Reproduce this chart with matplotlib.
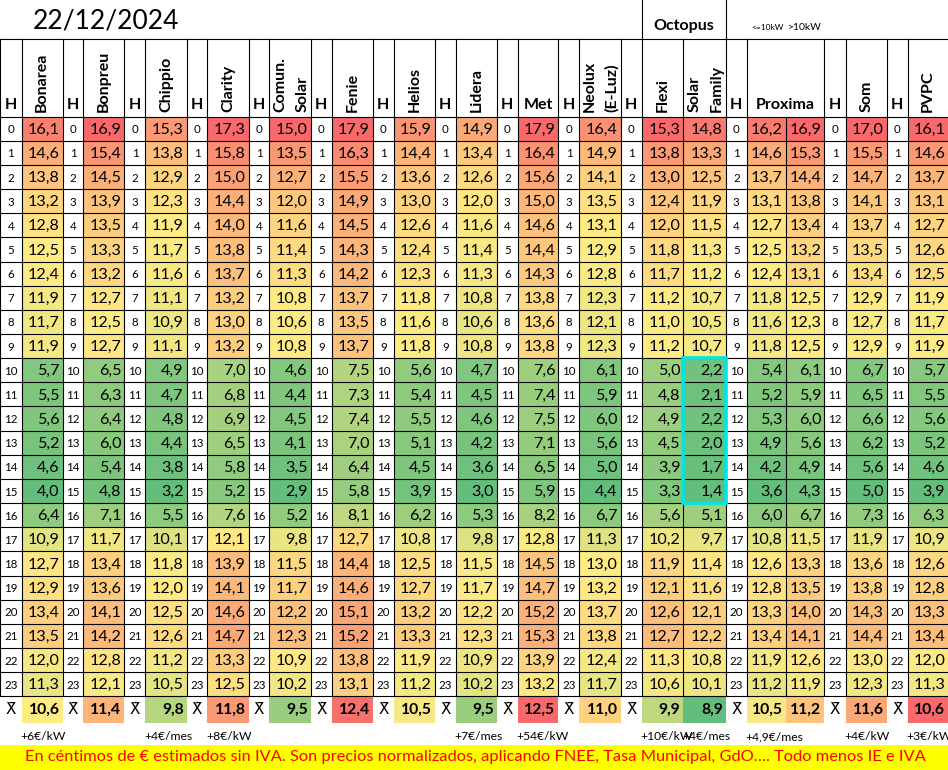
import numpy as np
import matplotlib
matplotlib.use("Agg")
import matplotlib.pyplot as plt
from matplotlib.patches import Rectangle

# ---- data (cents of euro per kWh, by hour) ----
title = "22/12/2024"
hours = list(range(24))

bonarea = [16.1, 14.6, 13.8, 13.2, 12.8, 12.5, 12.4, 11.9, 11.7, 11.9, 5.7, 5.5, 5.6, 5.2, 4.6, 4.0, 6.4, 10.9, 12.7, 12.9, 13.4, 13.5, 12.0, 11.3]
bonpreu = [16.9, 15.4, 14.5, 13.9, 13.5, 13.3, 13.2, 12.7, 12.5, 12.7, 6.5, 6.3, 6.4, 6.0, 5.4, 4.8, 7.1, 11.7, 13.4, 13.6, 14.1, 14.2, 12.8, 12.1]
chippio = [15.3, 13.8, 12.9, 12.3, 11.9, 11.7, 11.6, 11.1, 10.9, 11.1, 4.9, 4.7, 4.8, 4.4, 3.8, 3.2, 5.5, 10.1, 11.8, 12.0, 12.5, 12.6, 11.2, 10.5]
clarity = [17.3, 15.8, 15.0, 14.4, 14.0, 13.8, 13.7, 13.2, 13.0, 13.2, 7.0, 6.8, 6.9, 6.5, 5.8, 5.2, 7.6, 12.1, 13.9, 14.1, 14.6, 14.7, 13.3, 12.5]
comun_solar = [15.0, 13.5, 12.7, 12.0, 11.6, 11.4, 11.3, 10.8, 10.6, 10.8, 4.6, 4.4, 4.5, 4.1, 3.5, 2.9, 5.2, 9.8, 11.5, 11.7, 12.2, 12.3, 10.9, 10.2]
fenie = [17.9, 16.3, 15.5, 14.9, 14.5, 14.3, 14.2, 13.7, 13.5, 13.7, 7.5, 7.3, 7.4, 7.0, 6.4, 5.8, 8.1, 12.7, 14.4, 14.6, 15.1, 15.2, 13.8, 13.1]
helios = [15.9, 14.4, 13.6, 13.0, 12.6, 12.4, 12.3, 11.8, 11.6, 11.8, 5.6, 5.4, 5.5, 5.1, 4.5, 3.9, 6.2, 10.8, 12.5, 12.7, 13.2, 13.3, 11.9, 11.2]
lidera = [14.9, 13.4, 12.6, 12.0, 11.6, 11.4, 11.3, 10.8, 10.6, 10.8, 4.7, 4.5, 4.6, 4.2, 3.6, 3.0, 5.3, 9.8, 11.5, 11.7, 12.2, 12.3, 10.9, 10.2]
met = [17.9, 16.4, 15.6, 15.0, 14.6, 14.4, 14.3, 13.8, 13.6, 13.8, 7.6, 7.4, 7.5, 7.1, 6.5, 5.9, 8.2, 12.8, 14.5, 14.7, 15.2, 15.3, 13.9, 13.2]
neolux = [16.4, 14.9, 14.1, 13.5, 13.1, 12.9, 12.8, 12.3, 12.1, 12.3, 6.1, 5.9, 6.0, 5.6, 5.0, 4.4, 6.7, 11.3, 13.0, 13.2, 13.7, 13.8, 12.4, 11.7]
flexi = [15.3, 13.8, 13.0, 12.4, 12.0, 11.8, 11.7, 11.2, 11.0, 11.2, 5.0, 4.8, 4.9, 4.5, 3.9, 3.3, 5.6, 10.2, 11.9, 12.1, 12.6, 12.7, 11.3, 10.6]
solar_family = [14.8, 13.3, 12.5, 11.9, 11.5, 11.3, 11.2, 10.7, 10.5, 10.7, 2.2, 2.1, 2.2, 2.0, 1.7, 1.4, 5.1, 9.7, 11.4, 11.6, 12.1, 12.2, 10.8, 10.1]
proxima_low = [16.2, 14.6, 13.7, 13.1, 12.7, 12.5, 12.4, 11.8, 11.6, 11.8, 5.4, 5.2, 5.3, 4.9, 4.2, 3.6, 6.0, 10.8, 12.6, 12.8, 13.3, 13.4, 11.9, 11.2]
proxima_high = [16.9, 15.3, 14.4, 13.8, 13.4, 13.2, 13.1, 12.5, 12.3, 12.5, 6.1, 5.9, 6.0, 5.6, 4.9, 4.3, 6.7, 11.5, 13.3, 13.5, 14.0, 14.1, 12.6, 11.9]
som = [17.0, 15.5, 14.7, 14.1, 13.7, 13.5, 13.4, 12.9, 12.7, 12.9, 6.7, 6.5, 6.6, 6.2, 5.6, 5.0, 7.3, 11.9, 13.6, 13.8, 14.3, 14.4, 13.0, 12.3]
pvpc = [16.1, 14.6, 13.7, 13.1, 12.7, 12.6, 12.5, 11.9, 11.7, 11.9, 5.7, 5.5, 5.6, 5.2, 4.6, 3.9, 6.3, 10.9, 12.6, 12.8, 13.3, 13.4, 12.0, 11.3]

averages = [10.6, 11.4, 9.8, 11.8, 9.5, 12.4, 10.5, 9.5, 12.5, 11.0, 9.9, 8.9, 10.5, 11.2, 11.6, 10.6]
extras = ["+6€/kW", "", "+4€/mes", "+8€/kW", "", "", "", "+7€/mes", "+54€/kW", "",
          "+10€/kW", "+4€/mes", "+4,9€/mes", "", "+4€/kW", "+3€/kW"]
footnote = ("En céntimos de € estimados sin IVA. Son precios normalizados, aplicando FNEE, "
            "Tasa Municipal, GdO…. Todo menos IE e IVA")

series = [bonarea, bonpreu, chippio, clarity, comun_solar, fenie, helios, lidera,
          met, neolux, flexi, solar_family, proxima_low, proxima_high, som, pvpc]

# columns: (kind, header) ; kind 'h' = hour column, 'v' = value column
layout = [("h", "H"), ("v", "Bonarea"), ("h", "H"), ("v", "Bonpreu"), ("h", "H"), ("v", "Chippio"),
          ("h", "H"), ("v", "Clarity"), ("h", "H"), ("v", "Comun.\nSolar"), ("h", "H"), ("v", "Fenie"),
          ("h", "H"), ("v", "Helios"), ("h", "H"), ("v", "Lidera"), ("h", "H"), ("v", "Met"),
          ("h", "H"), ("v", "Neolux\n(E-Luz)"), ("h", "H"), ("v", "Flexi"), ("v", "Solar\nFamily"),
          ("h", "H"), ("v", "Proxima"), ("v", ""), ("h", "H"), ("v", "Som"), ("h", "H"), ("v", "PVPC")]
widths = [21.7, 41, 20.6, 41.1, 21, 41.4, 20.6, 41.4, 20.6, 41.4, 21, 41, 21, 41, 21, 41,
          21, 40.6, 21, 41.4, 21, 41.6, 42.4, 21, 38.8, 38.8, 21.4, 41, 21, 40.3]
color_group = [0, 0, 1, 1, 2, 3, 3, 3, 4, 4, 5, 5, 6, 6, 7, 8]

GREEN = np.array([0x63, 0xBE, 0x7B]) / 255
YELLOW = np.array([0xFF, 0xEB, 0x84]) / 255
RED = np.array([0xF8, 0x69, 0x6B]) / 255


def scale_color(v, lo, mid, hi):
    if v <= mid:
        t = (v - lo) / (mid - lo) if mid > lo else 0
        return GREEN + t * (YELLOW - GREEN)
    t = (v - mid) / (hi - mid) if hi > mid else 1
    return YELLOW + t * (RED - YELLOW)


group_stats = {}
for g in set(color_group):
    vals = np.concatenate([series[i] for i in range(len(series)) if color_group[i] == g])
    group_stats[g] = (vals.min(), np.median(vals), vals.max())

FONT = ["Lato", "DejaVu Sans"]
plt.rcParams["font.family"] = FONT

fig = plt.figure(figsize=(9.48, 7.7), dpi=100)
ax = fig.add_axes([0, 0, 1, 1])
ax.set_xlim(0, 948)
ax.set_ylim(770, 0)
ax.axis("off")

x_edges = np.concatenate([[0], np.cumsum(widths)])
head_top, head_bot = 39.3, 116.7
row_h = 24.15
table_bot = head_bot + 24 * row_h

ax.text(33, 21, title, fontsize=19, va="center", ha="left")
ax.text(683.5, 26, "Octopus", fontsize=11.5, fontweight="bold", ha="center", va="center")
ax.text(751.5, 27.5, "<=10kW", fontsize=6, ha="left", va="center")
ax.text(788, 27, ">10kW", fontsize=7.5, ha="left", va="center")
for xl in (641.7, 725.7):
    ax.plot([xl, xl], [0, head_top], color="black", lw=0.8)
ax.plot([0, 948], [head_top, head_top], color="black", lw=0.8)

LW = 0.8
vi = 0
for ci, (kind, label) in enumerate(layout):
    x0, x1 = x_edges[ci], x_edges[ci + 1]
    xc = (x0 + x1) / 2
    # header
    if kind == "h":
        ax.text(xc, 105, "H", fontsize=11.5, fontweight="bold", ha="center", va="center")
    elif label == "Met":
        ax.text(xc, 105, label, fontsize=11.5, fontweight="bold", ha="center", va="center")
    elif label == "Proxima":
        ax.text(x1, 105, label, fontsize=11.5, fontweight="bold", ha="center", va="center")
    elif "\n" in label:
        first, second = label.split("\n")
        ax.text(xc - 10, 112, first, fontsize=11.5, fontweight="bold", rotation=90,
                ha="center", va="bottom")
        ax.text(xc + 12, 112, second, fontsize=11.5, fontweight="bold", rotation=90,
                ha="center", va="bottom")
    elif label:
        ax.text(xc, 112, label, fontsize=11.5, fontweight="bold", rotation=90,
                ha="center", va="bottom")
    if label != "":
        ax.plot([x0, x0], [head_top, head_bot], color="black", lw=LW)

    # body
    if kind == "h":
        for r in hours:
            y0 = head_bot + r * row_h
            ax.text(xc, y0 + row_h / 2 + 1, str(r), fontsize=8.3, ha="center", va="center")
        ax.text(xc, table_bot + 13, "X\u0304", fontsize=11, ha="center", va="center",
                family=["DejaVu Sans"])
    else:
        vals = series[vi]
        lo, mid, hi = group_stats[color_group[vi]]
        for r, v in enumerate(vals):
            y0 = head_bot + r * row_h
            ax.add_patch(Rectangle((x0, y0), x1 - x0, row_h,
                                   facecolor=scale_color(v, lo, mid, hi), edgecolor="none"))
            ax.text(x1 - 3, y0 + row_h / 2 + 1, f"{v:.1f}".replace(".", ","),
                    fontsize=11.6, ha="right", va="center")
        a = averages[vi]
        if vi == len(series) - 1:
            acol = RED
        else:
            acol = scale_color(a, min(averages), np.median(averages[:-1]), max(averages))
        ax.add_patch(Rectangle((x0, table_bot + 0.5), x1 - x0, 26,
                               facecolor=acol, edgecolor="none"))
        ax.text(x1 - 3, table_bot + 13.5, f"{a:.1f}".replace(".", ","),
                fontsize=11.3, fontweight="bold", ha="right", va="center")
        if extras[vi]:
            ax.text(x0 - 1, 737, extras[vi], fontsize=8.7, ha="left", va="center")
        vi += 1

# grid lines of the body
for xe in x_edges[:-1]:
    ax.plot([xe, xe], [head_bot, table_bot], color="black", lw=LW)
for r in range(25):
    y = head_bot + r * row_h
    ax.plot([0, 948], [y, y], color="black", lw=LW)

# highlight on Solar Family cheapest hours
sf_col = [i for i, (k, l) in enumerate(layout) if l.startswith("Solar")][0]
ax.add_patch(Rectangle((x_edges[sf_col], head_bot + 10 * row_h), widths[sf_col], 6 * row_h,
                       facecolor="none", edgecolor="#00E5E5", lw=2.6, zorder=5))

# footnote banner
ax.add_patch(Rectangle((0, 745), 948, 24.5, facecolor="#FFFF00", edgecolor="none"))
ax.text(475, 757.5, footnote, color="#FF0000", fontsize=11.8, ha="center", va="center")

fig.savefig("out.png", dpi=100)
